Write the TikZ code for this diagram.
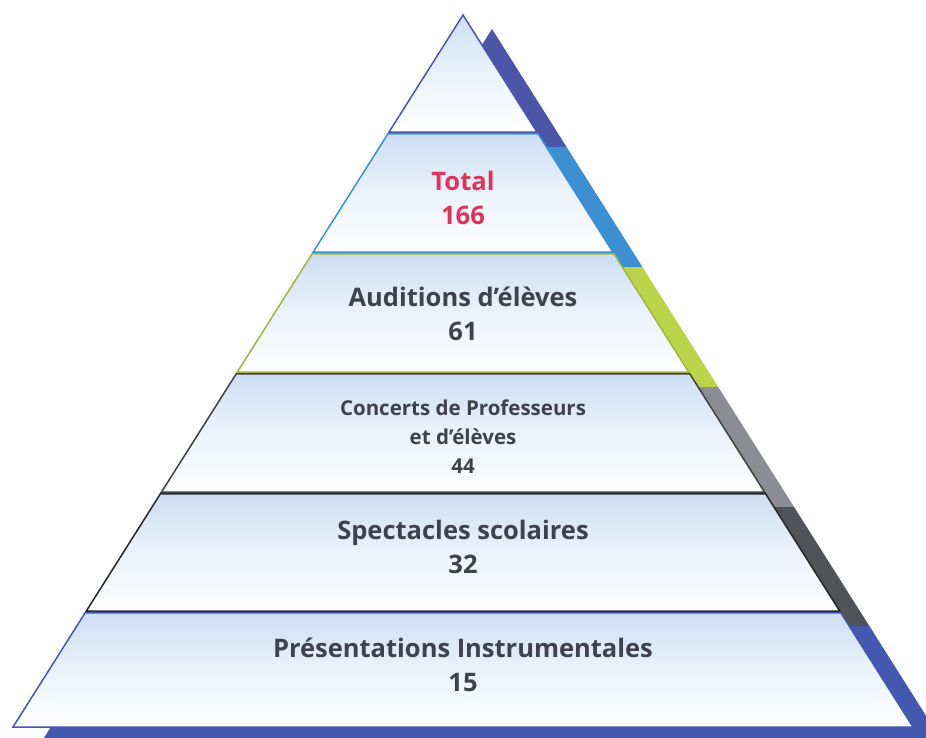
\documentclass[tikz,border=0pt]{standalone}
\usepackage{fontspec}
\setmainfont{Open Sans}
\usepackage{tikz}
\usetikzlibrary{positioning, calc}

\definecolor{tierA}{RGB}{75,86,168}
\definecolor{tierB}{RGB}{60,143,208}
\definecolor{tierC}{RGB}{188,212,74}
\definecolor{tierD}{RGB}{140,140,148}
\definecolor{tierE}{RGB}{80,83,88}
\definecolor{tierF}{RGB}{68,88,176}
\definecolor{labelgray}{RGB}{62,66,76}
\definecolor{totalred}{RGB}{222,52,92}
\definecolor{paneltop}{RGB}{204,222,244}

\begin{document}
\begin{tikzpicture}[
        x=1pt, y=-1pt,
        tierfill/.style={top color=paneltop, bottom color=white,
            middle color=paneltop!40!white},
        tierline/.style={draw=#1, line width=1.5pt, line join=miter},
        label/.style={align=center, text=labelgray,
            font=\fontsize{25.5}{34}\selectfont\bfseries},
        small/.style={align=center, text=labelgray,
            font=\fontsize{20.5}{29}\selectfont\bfseries},
    ]

    \useasboundingbox (0,0) rectangle (926,738);

    % ── Shadow ──
    \foreach \t/\b/\fc in {15/133/tierA, 133/253/tierB, 253/373/tierC,
                           373/493/tierD, 493/612/tierE, 612/727/tierF} {
        \pgfmathsetmacro{\wt}{0.632*(\t-15)}
        \pgfmathsetmacro{\wb}{0.632*(\b-15)}
        \fill[\fc] ({492-\wt},\t+14) -- ({492+\wt},\t+14)
            -- ({492+\wb},\b+14) -- ({492-\wb},\b+14) -- cycle;
    }

    % ── Tiers: fill, then outline ──
    \foreach \t/\b in {15/133, 133/253, 253/373, 373/493, 493/612, 612/727} {
        \pgfmathsetmacro{\wt}{0.632*(\t-15)}
        \pgfmathsetmacro{\wb}{0.632*(\b-15)}
        \path[tierfill] ({463-\wt},\t) -- ({463+\wt},\t)
            -- ({463+\wb},\b) -- ({463-\wb},\b) -- cycle;
    }
    \foreach \t/\b/\dc in {15/133/tierA, 133/253/tierB, 253/373/tierC!85!black,
                           373/493/black!75, 493/612/black!85, 612/727/tierF} {
        \pgfmathsetmacro{\ta}{\t==15 ? 15 : \t+0.8}
        \pgfmathsetmacro{\ba}{\b==727 ? 727 : \b-0.8}
        \pgfmathsetmacro{\wt}{0.632*(\ta-15)}
        \pgfmathsetmacro{\wb}{0.632*(\ba-15)}
        \draw[tierline=\dc] ({463-\wt},\ta) -- ({463+\wt},\ta)
            -- ({463+\wb},\ba) -- ({463-\wb},\ba) -- cycle;
    }

    % ── Labels ──
    \node[label, text=totalred] (total) at (463,198) {Total\\166};
    \node[label] (auditions) at (463,314) {Auditions d’élèves\\61};
    \node[small] (concerts) at (463,437) {Concerts de Professeurs\\et d’élèves\\44};
    \node[label] (spectacles) at (463,547) {Spectacles scolaires\\32};
    \node[label] (presentations) at (463,665) {Présentations Instrumentales\\15};

\end{tikzpicture}
\end{document}
